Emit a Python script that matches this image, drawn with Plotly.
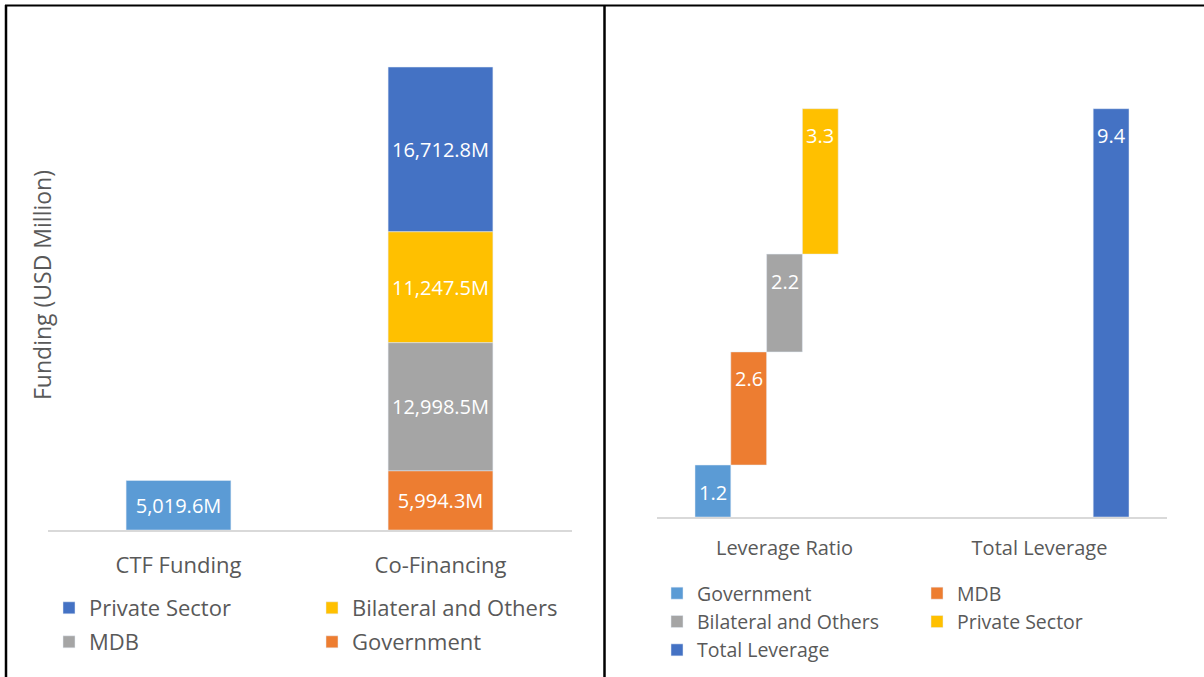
import plotly.graph_objects as go
import numpy as np

# ---------------- data ----------------
left_categories = ["CTF Funding", "Co-Financing"]
ctf_funding = 5019.6
cofin_series = ["Government", "MDB", "Bilateral and Others", "Private Sector"]  # bottom -> top
cofin_values = [5994.3, 12998.5, 11247.5, 16712.8]

right_categories = ["Leverage Ratio", "Total Leverage"]
ratio_series = ["Government", "MDB", "Bilateral and Others", "Private Sector"]
ratio_values = [1.19, 2.59, 2.24, 3.33]
ratio_labels = ["1.2", "2.6", "2.2", "3.3"]
total_leverage = 9.35
total_label = "9.4"

# ---------------- styles ----------------
FONT = "Open Sans"
TXT = "#595959"
left_colors = {"Government": "#ED7D31", "MDB": "#A5A5A5",
               "Bilateral and Others": "#FFC000", "Private Sector": "#4472C4"}
ctf_color = "#5B9BD5"
right_colors = {"Government": "#5B9BD5", "MDB": "#ED7D31",
                "Bilateral and Others": "#A5A5A5", "Private Sector": "#FFC000"}
total_color = "#4472C4"
left_legend_of = {"Private Sector": "legend", "MDB": "legend",
                  "Bilateral and Others": "legend2", "Government": "legend2"}
right_legend_of = {"Government": "legend3", "Bilateral and Others": "legend3",
                   "MDB": "legend4", "Private Sector": "legend4"}

BAR_W_LEFT = 0.40
BARGAP = 0.298

fig = go.Figure()

# ---------- left chart (stacked via explicit base) ----------
label_font = dict(family=FONT, size=20, color="white")
fig.add_trace(go.Bar(
    x=[left_categories[0]], y=[ctf_funding], base=[0],
    marker_color=ctf_color, showlegend=False, name="CTF Funding",
    width=BAR_W_LEFT, offset=-BAR_W_LEFT / 2, offsetgroup="L",
    texttemplate="%{y:,.1f}M", textposition="inside", insidetextanchor="middle",
    textangle=0, textfont=label_font, xaxis="x", yaxis="y"))

bases = np.concatenate([[0], np.cumsum(cofin_values)[:-1]])
order = list(range(len(cofin_series)))[::-1]  # top -> bottom for legend order
for i in order:
    s = cofin_series[i]
    fig.add_trace(go.Bar(
        x=[left_categories[1]], y=[cofin_values[i]], base=[bases[i]],
        name=s, marker_color=left_colors[s], legend=left_legend_of[s],
        legendgroup="L" + s,
        width=BAR_W_LEFT, offset=-BAR_W_LEFT / 2, offsetgroup="L",
        texttemplate="%{y:,.1f}M", textposition="inside", insidetextanchor="middle",
        textangle=0, textfont=label_font, xaxis="x", yaxis="y"))

# ---------- right chart (waterfall via base, clustered) ----------
rbases = np.concatenate([[0], np.cumsum(ratio_values)[:-1]])
annotations = []
n_slots = len(ratio_series) + 1
slot = (1 - BARGAP) / n_slots
for i, s in enumerate(ratio_series):
    fig.add_trace(go.Bar(
        x=right_categories, y=[ratio_values[i], None], base=[rbases[i], None],
        name=s, marker_color=right_colors[s], legend=right_legend_of[s],
        legendgroup="R" + s, xaxis="x2", yaxis="y2"))
    annotations.append(dict(
        x=0 - (1 - BARGAP) / 2 + (i + 0.5) * slot, y=rbases[i] + ratio_values[i],
        xref="x2", yref="y2", text=ratio_labels[i], showarrow=False,
        xanchor="center", yanchor="middle", yshift=-27,
        font=dict(family=FONT, size=20, color="white")))
fig.add_trace(go.Bar(
    x=right_categories, y=[None, total_leverage], base=[None, 0],
    name="Total Leverage", marker_color=total_color, legend="legend3",
    legendgroup="RTotal", xaxis="x2", yaxis="y2"))
annotations.append(dict(
    x=1 - (1 - BARGAP) / 2 + (n_slots - 0.5) * slot, y=total_leverage,
    xref="x2", yref="y2", text=total_label, showarrow=False,
    xanchor="center", yanchor="middle", yshift=-27,
    font=dict(family=FONT, size=20, color="white")))

W, H = 1204, 677
def px_x(v): return v / W
def px_y(v): return 1 - v / H

# y-axis title for left chart
annotations.append(dict(
    x=px_x(42), y=px_y(285), xref="paper", yref="paper",
    xanchor="center", yanchor="middle",
    text="Funding (USD Million)", textangle=-90, showarrow=False,
    font=dict(family=FONT, size=23, color=TXT)))

axis_common = dict(showgrid=False, zeroline=False, ticks="", showline=True,
                   linecolor="#D9D9D9", linewidth=1.5, fixedrange=True)
yaxis_common = dict(showgrid=False, zeroline=False, showticklabels=False,
                    showline=False, ticks="", fixedrange=True)

legend_common = dict(orientation="v", xanchor="left", yanchor="top",
                     bgcolor="rgba(0,0,0,0)", traceorder="grouped")

fig.update_layout(
    width=W, height=H, margin=dict(l=0, r=0, t=0, b=0),
    paper_bgcolor="white", plot_bgcolor="white",
    barmode="group", bargap=BARGAP, bargroupgap=0,
    font=dict(family=FONT, color=TXT),
    xaxis=dict(domain=[px_x(47.5), px_x(571.5)], anchor="y",
               tickfont=dict(family=FONT, size=22, color=TXT),
               ticklabelstandoff=15, **axis_common),
    yaxis=dict(domain=[px_y(530), px_y(37)], range=[0, 50000], anchor="x", **yaxis_common),
    xaxis2=dict(domain=[px_x(657), px_x(1167)], anchor="y2",
                tickfont=dict(family=FONT, size=20, color=TXT),
                ticklabelstandoff=12, **axis_common),
    yaxis2=dict(domain=[px_y(517), px_y(80.3)], range=[0, 10], anchor="x2", **yaxis_common),
    legend=dict(x=px_x(49), y=px_y(587), tracegroupgap=2.4,
                font=dict(family=FONT, size=22, color=TXT), **legend_common),
    legend2=dict(x=px_x(312), y=px_y(587), tracegroupgap=2.4,
                 font=dict(family=FONT, size=22, color=TXT), **legend_common),
    legend3=dict(x=px_x(657), y=px_y(574), tracegroupgap=0,
                 font=dict(family=FONT, size=19.5, color=TXT), **legend_common),
    legend4=dict(x=px_x(917), y=px_y(574), tracegroupgap=0,
                 font=dict(family=FONT, size=19.5, color=TXT), **legend_common),
    annotations=annotations,
    shapes=[
        dict(type="line", xref="paper", yref="paper", x0=px_x(5), x1=1,
             y0=px_y(5.5), y1=px_y(5.5), line=dict(color="black", width=2)),
        dict(type="line", xref="paper", yref="paper", x0=px_x(6), x1=px_x(6),
             y0=0, y1=px_y(5), line=dict(color="black", width=2.5)),
        dict(type="line", xref="paper", yref="paper", x0=px_x(604.5), x1=px_x(604.5),
             y0=0, y1=px_y(5), line=dict(color="black", width=2.5)),
    ],
)

fig.write_html("out.html")
